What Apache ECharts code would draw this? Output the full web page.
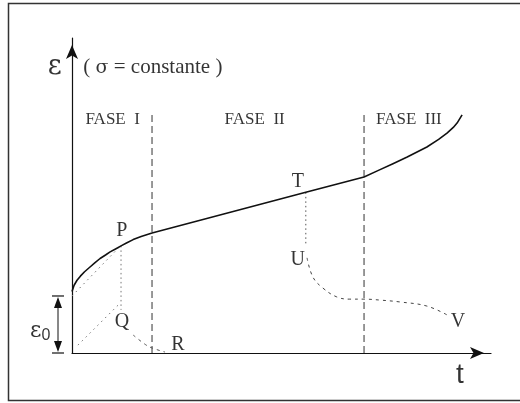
<!DOCTYPE html>
<html>
<head>
<meta charset="utf-8">
<script src="https://cdn.jsdelivr.net/npm/echarts@6/dist/echarts.min.js"></script>
<style>
  html, body { margin: 0; padding: 0; background: #fff; }
  #chart { width: 520px; height: 403px; }
</style>
</head>
<body>
<div id="chart"></div>
<script>
// Creep curve: strain ε versus time t at constant stress
const EPS0 = 1.81;

// main creep curve (primary, secondary, tertiary)
const tMain   = [0, 0.05, 0.12, 0.2, 0.3, 0.43, 0.55, 0.67, 0.8, 0.91, 1.05, 1.17, 1.3, 1.46, 1.65, 1.91,
                 5.58, 6.97, 7.3, 7.66, 8.0, 8.47, 8.75, 8.95, 9.1, 9.19, 9.31];
const epsMain = [1.95, 2.15, 2.31, 2.44, 2.58, 2.73, 2.87, 3.00, 3.11, 3.21, 3.31, 3.40, 3.49, 3.60, 3.70, 3.81,
                 5.10, 5.59, 5.79, 6.01, 6.22, 6.54, 6.78, 6.98, 7.16, 7.30, 7.56];

// phase boundaries
const phaseT = [1.91, 6.97];
const phaseTop = 7.56;

// construction lines
const tangentT = [0, 1.12],   tangentEps = [EPS0, 3.35];
const dropPT = [1.17, 1.17],  dropPEps = [3.40, 1.37];
const riseQT = [0.14, 1.10],  riseQEps = [0.25, 1.52];
const recQRT = [1.46, 1.75, 1.91, 2.22], recQREps = [0.57, 0.27, 0.16, 0.03];
const dropTT = [5.58, 5.58],  dropTEps = [5.10, 3.43];
const recUVT   = [5.61, 5.75, 5.99, 6.32, 6.63, 6.97, 7.35, 7.83, 8.47, 8.95];
const recUVEps = [3.02, 2.41, 2.06, 1.78, 1.71, 1.71, 1.68, 1.62, 1.49, 1.21];

// point letters
const ptNames = ['P', 'Q', 'R', 'T', 'U', 'V'];
const ptT     = [1.19, 1.19, 2.53, 5.39, 5.39, 9.21];
const ptEps   = [3.87, 0.98, 0.25, 5.43, 2.95, 1.00];

// phase titles
const phaseNames = ['FASE I', 'FASE II', 'FASE III'];
const phaseNameT = [0.97, 4.36, 8.04];
const phaseNameEps = 7.40;

const zip = (a, b) => a.map((v, i) => [v, b[i]]);
const serif = '"Liberation Serif", "DejaVu Serif", serif';
const greek = '"DejaVu Serif", serif';

function lineSeries(t, e, color, dash) {
  return {
    type: 'line', data: zip(t, e), symbol: 'none', silent: true,
    lineStyle: { color: color, width: 1, type: dash },
    z: 3
  };
}

const labelData = [];
ptNames.forEach((n, i) => labelData.push({ name: n, value: [ptT[i], ptEps[i]],
  label: { fontSize: 20 } }));
phaseNames.forEach((n, i) => labelData.push({ name: n, value: [phaseNameT[i], phaseNameEps],
  label: { fontSize: 17, formatter: n.replace(' ', '  ') } }));
labelData.push({ name: '( σ = constante )', value: [1.93, 9.05], label: {
  formatter: '{p|( }{g|σ}{p| = constante )}',
  rich: { p: { fontSize: 21, fontFamily: serif, color: '#000' },
          g: { fontSize: 19, fontFamily: greek, color: '#000' } } } });
labelData.push({ name: 'ε', value: [-0.41, 9.08], label: { fontSize: 27, fontFamily: greek } });
labelData.push({ name: 't', value: [9.26, -0.70], label: { fontSize: 28, fontFamily: '"Liberation Sans", Arial, sans-serif' } });
labelData.push({ name: 'ε0', value: [-0.76, 0.70], label: {
  formatter: '{a|ε}{b|0}',
  rich: { a: { fontSize: 22, fontFamily: greek, color: '#000' },
          b: { fontSize: 16, fontFamily: '"Liberation Sans", Arial, sans-serif', color: '#000', padding: [10, 0, 0, 0] } }
} });

const chart = echarts.init(document.getElementById('chart'), null, { renderer: 'canvas' });

const axisCommon = {
  type: 'value', min: 0, max: 10,
  axisLine: { show: true, onZero: false, lineStyle: { color: '#111', width: 1.2 },
              symbol: ['none', 'arrow'], symbolSize: [9, 14], symbolOffset: [0, -7] },
  axisTick: { show: false }, axisLabel: { show: false }, splitLine: { show: false }
};

chart.setOption({
  animation: false,
  backgroundColor: '#fff',
  grid: { left: 72, top: 38, width: 419, height: 315 },
  xAxis: Object.assign({}, axisCommon),
  yAxis: Object.assign({}, axisCommon),
  series: [
    { type: 'line', data: zip(tMain, epsMain), symbol: 'none', smooth: false, silent: true,
      lineStyle: { color: '#111', width: 1.6, join: 'round' }, z: 5 },
    lineSeries([phaseT[0], phaseT[0]], [0, phaseTop], '#333', [7, 4]),
    lineSeries([phaseT[1], phaseT[1]], [0, phaseTop], '#333', [7, 4]),
    lineSeries(tangentT, tangentEps, '#777', [1.5, 4]),
    lineSeries(dropPT, dropPEps, '#777', [1.5, 3]),
    lineSeries(riseQT, riseQEps, '#777', [1.5, 4]),
    Object.assign(lineSeries(recQRT, recQREps, '#555', [3, 4]), { smooth: 0.4 }),
    lineSeries(dropTT, dropTEps, '#555', [1.5, 3]),
    Object.assign(lineSeries(recUVT, recUVEps, '#444', [3, 4]), { smooth: 0.4 }),
    { type: 'scatter', data: labelData, symbolSize: 0, clip: false, silent: true, z: 6,
      label: { show: true, position: 'inside', formatter: '{b}', color: '#000',
               fontFamily: serif } }
  ]
});

// ε0 bracket beside the strain axis and the outer frame
const pTop = chart.convertToPixel({ gridIndex: 0 }, [0, EPS0]);
const pBot = chart.convertToPixel({ gridIndex: 0 }, [0, 0]);
const bx = pTop[0] - 14;
chart.setOption({
  graphic: [
    { type: 'rect', shape: { x: 8.5, y: 3.5, width: 530, height: 397 },
      style: { fill: 'none', stroke: '#333', lineWidth: 1.5 }, silent: true },
    { type: 'line', shape: { x1: bx, y1: pTop[1] + 8, x2: bx, y2: pBot[1] - 8 },
      style: { stroke: '#111', lineWidth: 1 } },
    { type: 'line', shape: { x1: bx - 6, y1: pTop[1], x2: bx + 6, y2: pTop[1] },
      style: { stroke: '#111', lineWidth: 1.2 } },
    { type: 'line', shape: { x1: bx - 6, y1: pBot[1], x2: bx + 6, y2: pBot[1] },
      style: { stroke: '#111', lineWidth: 1.2 } },
    { type: 'polygon', shape: { points: [[bx, pTop[1] + 1], [bx - 4, pTop[1] + 12], [bx + 4, pTop[1] + 12]] },
      style: { fill: '#111' } },
    { type: 'polygon', shape: { points: [[bx, pBot[1] - 1], [bx - 4, pBot[1] - 12], [bx + 4, pBot[1] - 12]] },
      style: { fill: '#111' } }
  ]
});
</script>
</body>
</html>
